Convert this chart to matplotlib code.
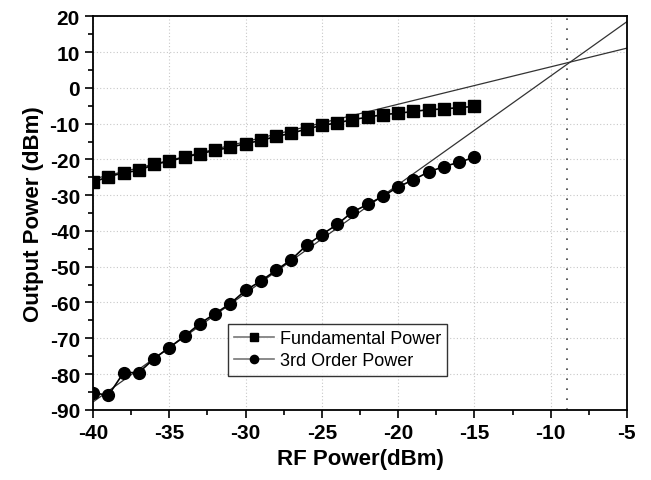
import numpy as np
import matplotlib
matplotlib.use('Agg')
import matplotlib.pyplot as plt
from matplotlib.ticker import MultipleLocator

plt.rcParams['font.family'] = ['Liberation Sans', 'DejaVu Sans']
plt.rcParams['axes.unicode_minus'] = False

# input power sweep (dBm)
rf_power = np.arange(-40, -14, 1)

fundamental = [-26.3, -24.9, -23.7, -23.1, -21.4, -20.5, -19.4, -18.4, -17.5,
               -16.6, -15.6, -14.7, -13.6, -12.7, -11.5, -10.5, -9.8, -8.9,
               -8.2, -7.5, -7.1, -6.6, -6.1, -5.9, -5.5, -5.2]
third_order = [-85.2, -86.0, -79.6, -79.6, -75.7, -72.6, -69.4, -65.9, -63.1,
               -60.3, -56.6, -54.0, -51.0, -48.0, -44.0, -41.0, -38.2, -34.7,
               -32.6, -30.3, -27.7, -25.7, -23.5, -22.0, -20.8, -19.4]

# linear extrapolation lines (end points)
fit_x = [-40, -5]
fund_fit = [-25.5, 11.1]
third_fit = [-87.8, 18.5]
iip3_x = -8.9

fig, ax = plt.subplots(figsize=(6.51, 4.81), dpi=100)
fig.subplots_adjust(left=0.143, right=0.963, top=0.964, bottom=0.146)

ax.plot(fit_x, fund_fit, color='#333333', lw=0.9, zorder=2)
ax.plot(fit_x, third_fit, color='#333333', lw=0.9, zorder=2)
ax.axvline(iip3_x, color='#444444', lw=1.2, linestyle=(0, (1, 5)), zorder=2)

ax.plot(rf_power, fundamental, 's-', color='black', mfc='black', ms=8,
        lw=1.2, label='Fundamental Power', zorder=3)
ax.plot(rf_power, third_order, 'o-', color='black', mfc='black', ms=8.5,
        lw=1.2, label='3rd Order Power', zorder=3)

ax.set_xlim(-40, -5)
ax.set_ylim(-90, 20)
ax.xaxis.set_major_locator(MultipleLocator(5))
ax.xaxis.set_minor_locator(MultipleLocator(2.5))
ax.yaxis.set_major_locator(MultipleLocator(10))
ax.yaxis.set_minor_locator(MultipleLocator(5))
ax.tick_params(which='major', direction='out', length=6, width=1.2,
               labelsize=15, top=False, right=False)
ax.tick_params(which='minor', direction='out', length=3.5, width=1.2,
               top=False, right=False)
for lab in ax.get_xticklabels() + ax.get_yticklabels():
    lab.set_fontweight('bold')
for sp in ax.spines.values():
    sp.set_linewidth(1.3)

ax.grid(True, which='major', color='#c8c8c8', linestyle=(0, (1, 2)), lw=0.8)
ax.set_axisbelow(True)

ax.set_xlabel('RF Power(dBm)', fontsize=16, fontweight='bold', labelpad=4)
ax.set_ylabel('Output Power (dBm)', fontsize=16, fontweight='bold', labelpad=4)

leg = ax.legend(loc='upper left', bbox_to_anchor=(0.253, 0.219), fontsize=13,
                frameon=True, fancybox=False, edgecolor='black',
                handlelength=2.2, handletextpad=0.3, borderpad=0.35,
                labelspacing=0.3, borderaxespad=0, markerscale=0.7)
leg.get_frame().set_linewidth(1.0)
for h in leg.legend_handles:
    h.set_color('#777777')
    h.set_markerfacecolor('black')
    h.set_markeredgecolor('black')

fig.savefig('out.png', dpi=100)
